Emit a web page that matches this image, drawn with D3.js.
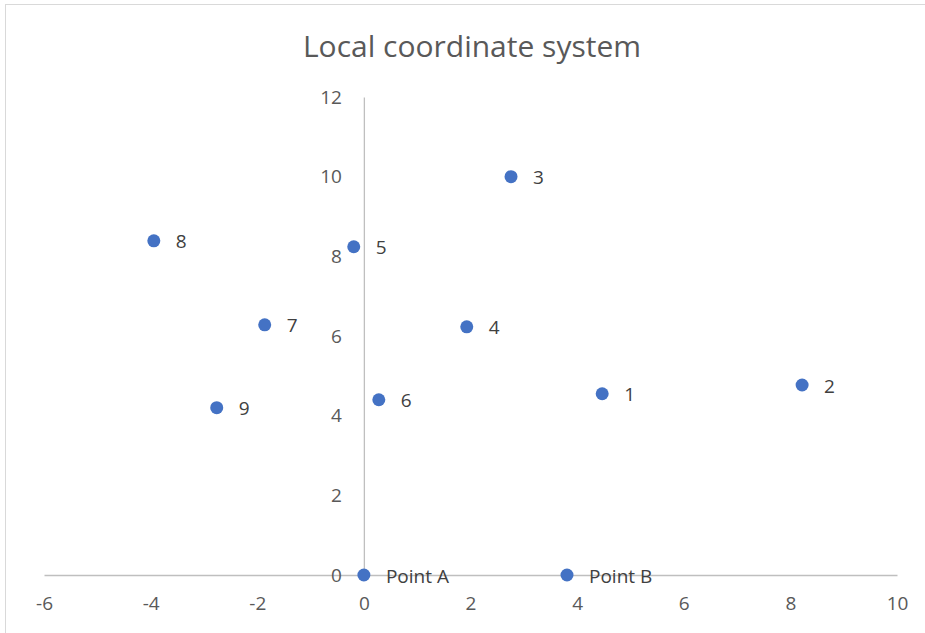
<!DOCTYPE html>
<html>
<head>
<meta charset="utf-8">
<script src="https://cdn.jsdelivr.net/npm/d3@7/dist/d3.min.js"></script>
<style>
  html, body { margin: 0; padding: 0; background: #fff; }
  svg { display: block; }
  text { font-family: "Open Sans", "Noto Sans", sans-serif; }
</style>
</head>
<body>
<svg id="chart" width="925" height="633"></svg>
<script>
// Point labels and their local coordinates
const labels = ["Point A", "Point B", "1", "2", "3", "4", "5", "6", "7", "8", "9"];
const xValues = [0, 3.81, 4.47, 8.22, 2.76, 1.93, -0.19, 0.28, -1.86, -3.94, -2.76];
const yValues = [0, 0, 4.55, 4.77, 10.0, 6.23, 8.24, 4.40, 6.28, 8.39, 4.20];

const xTicks = [-6, -4, -2, 0, 2, 4, 6, 8, 10];
const yTicks = [0, 2, 4, 6, 8, 10, 12];

const points = labels.map((label, i) => ({ label, x: xValues[i], y: yValues[i] }));

// Plain hyphen-minus for negative tick labels
const tickFormat = d => String(d);

const svg = d3.select("#chart");

// Chart frame
svg.append("rect")
  .attr("x", 5.5).attr("y", 4.5)
  .attr("width", 940).attr("height", 650)
  .attr("fill", "#fff")
  .attr("stroke", "#d9d9d9")
  .attr("stroke-width", 1);

const x = d3.scaleLinear().domain([-6, 10]).range([44, 897]);
const y = d3.scaleLinear().domain([0, 12]).range([575, 97]);

// Title
svg.append("text")
  .attr("x", 472).attr("y", 57)
  .attr("text-anchor", "middle")
  .attr("fill", "#595959")
  .attr("font-size", 30)
  .text("Local coordinate system");

// Horizontal axis crossing at y = 0
const xAxis = svg.append("g")
  .attr("transform", `translate(0,${y(0)})`)
  .call(d3.axisBottom(x).tickValues(xTicks).tickSize(0).tickPadding(22).tickFormat(tickFormat));
xAxis.select(".domain").attr("stroke", "#bfbfbf").attr("stroke-width", 1.3);
xAxis.selectAll("text")
  .attr("fill", "#595959")
  .attr("font-size", 19)
  .style("font-family", "'Open Sans', sans-serif");

// Vertical axis crossing at x = 0
const yAxis = svg.append("g")
  .attr("transform", `translate(${x(0)},0)`)
  .call(d3.axisLeft(y).tickValues(yTicks).tickSize(0).tickPadding(22).tickFormat(tickFormat));
yAxis.select(".domain").attr("stroke", "#bfbfbf").attr("stroke-width", 1.3);
yAxis.selectAll("text")
  .attr("fill", "#595959")
  .attr("font-size", 19)
  .style("font-family", "'Open Sans', sans-serif");

// Markers
svg.append("g").selectAll("circle")
  .data(points)
  .join("circle")
  .attr("cx", d => x(d.x))
  .attr("cy", d => y(d.y))
  .attr("r", 6.5)
  .attr("fill", "#4472c4");

// Data labels
svg.append("g").selectAll("text")
  .data(points)
  .join("text")
  .attr("x", d => x(d.x) + 22)
  .attr("y", d => y(d.y) + 1)
  .attr("dy", "0.35em")
  .attr("fill", "#404040")
  .attr("font-size", 19)
  .text(d => d.label);
</script>
</body>
</html>
